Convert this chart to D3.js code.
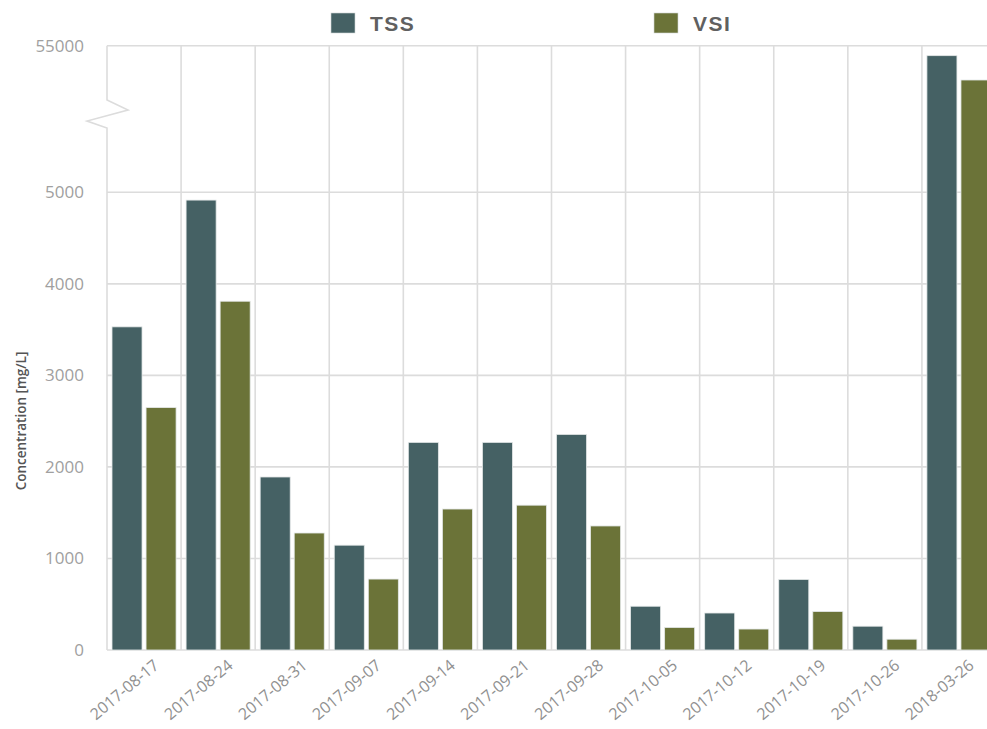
<!DOCTYPE html>
<html>
<head>
<meta charset="utf-8">
<script src="https://cdn.jsdelivr.net/npm/d3@7/dist/d3.min.js"></script>
<style>
  html, body { margin: 0; padding: 0; background: #ffffff; overflow: hidden; }
  svg { display: block; }
</style>
</head>
<body>
<div id="chart"></div>
<script>
// ---- data ----
const categories = ["2017-08-17","2017-08-24","2017-08-31","2017-09-07","2017-09-14","2017-09-21",
                    "2017-09-28","2017-10-05","2017-10-12","2017-10-19","2017-10-26","2018-03-26"];
const seriesNames = ["TSS", "VSI"];
const tssValues = [3530, 4915, 1890, 1145, 2268, 2268, 2355, 478, 404, 770, 260, 51600];
const vsiValues = [2648, 3810, 1278, 775, 1540, 1582, 1355, 246, 229, 420, 118, 43300];
const yTickValues = [0, 1000, 2000, 3000, 4000, 5000, 55000];
const yBreakLow = 5000, yBreakHigh = 55000;
const colors = { TSS: "#456164", VSI: "#6b7338" };

// ---- layout ----
const W = 987, H = 729;
const plotLeft = 107, plotRight = 996, plotTop = 45.7, plotBottom = 650;

const svg = d3.select("#chart").append("svg").attr("width", W).attr("height", H);

const x = d3.scaleBand().domain(categories).range([plotLeft, plotRight]).padding(0);
const xs = d3.scaleBand().domain(seriesNames).range([0, x.bandwidth()])
  .paddingInner(0.118).paddingOuter(0.147);
// broken axis: linear 0..5000 in lower part, compressed 5000..55000 above
const y = d3.scaleLinear().domain([0, yBreakLow, yBreakHigh]).range([plotBottom, 192.3, plotTop]);

const gridColor = "#dcdcdc";

// horizontal gridlines
svg.append("g").selectAll("line").data(yTickValues).join("line")
  .attr("x1", plotLeft).attr("x2", W + 20)
  .attr("y1", d => y(d)).attr("y2", d => y(d))
  .attr("stroke", gridColor).attr("stroke-width", 1.6);

// vertical gridlines at band boundaries
svg.append("g").selectAll("line").data(categories.slice(1)).join("line")
  .attr("x1", d => x(d)).attr("x2", d => x(d))
  .attr("y1", plotTop).attr("y2", plotBottom)
  .attr("stroke", gridColor).attr("stroke-width", 1.6);

// left axis line with break zigzag
const yMid = y((yBreakLow + yBreakHigh) / 2) - 5;
const zig = [[plotLeft, plotTop], [plotLeft, yMid - 14], [plotLeft + 21, yMid - 4], [plotLeft - 20, yMid + 7], [plotLeft, yMid + 14], [plotLeft, plotBottom]];
svg.append("path").attr("d", d3.line()(zig))
  .attr("fill", "none").attr("stroke", gridColor).attr("stroke-width", 1.6);

// bars
const rows = categories.map((c, i) => ({ cat: c, TSS: tssValues[i], VSI: vsiValues[i] }));
const gBars = svg.append("g");
rows.forEach(r => {
  seriesNames.forEach(s => {
    gBars.append("rect")
      .attr("x", x(r.cat) + xs(s))
      .attr("y", y(r[s]))
      .attr("width", xs.bandwidth())
      .attr("height", plotBottom - y(r[s]))
      .attr("fill", colors[s])
      .attr("stroke", "#e4e8e8").attr("stroke-width", 0.8);
  });
});

// y axis labels
const yAxis = d3.axisLeft(y).tickValues(yTickValues).tickSize(0).tickPadding(0).tickFormat(d3.format("d"));
const gy = svg.append("g").attr("transform", `translate(${plotLeft - 23},0)`).call(yAxis);
gy.select(".domain").remove();
gy.selectAll("text").attr("fill", "#a0a0a0").style("font-family", "Open Sans").style("font-size", "17px");

// x axis labels
const gx = svg.append("g");
gx.selectAll("text").data(categories).join("text")
  .attr("transform", d => `translate(${x(d) + x.bandwidth() / 2 + 16},${667}) rotate(-40)`)
  .attr("text-anchor", "end")
  .attr("fill", "#909090")
  .style("font-family", "Open Sans").style("font-size", "16px")
  .text(d => d);

// y axis title
svg.append("text")
  .attr("transform", `translate(26,421) rotate(-90)`)
  .attr("text-anchor", "middle")
  .attr("fill", "#555")
  .style("font-family", "Open Sans").style("font-size", "13.5px").style("font-weight", "600")
  .text("Concentration [mg/L]");

// legend
const legendPos = { TSS: 331, VSI: 654 };
seriesNames.forEach(s => {
  svg.append("rect").attr("x", legendPos[s]).attr("y", 13).attr("width", 24).attr("height", 20)
    .attr("fill", colors[s]).attr("stroke", "#cfd5d5").attr("stroke-width", 0.6);
  svg.append("text").attr("x", legendPos[s] + 39).attr("y", 30.5)
    .attr("fill", "#606060")
    .style("font-family", "Liberation Sans").style("font-size", "21px").style("font-weight", "bold")
    .style("letter-spacing", "1.5px")
    .text(s);
});
</script>
</body>
</html>
